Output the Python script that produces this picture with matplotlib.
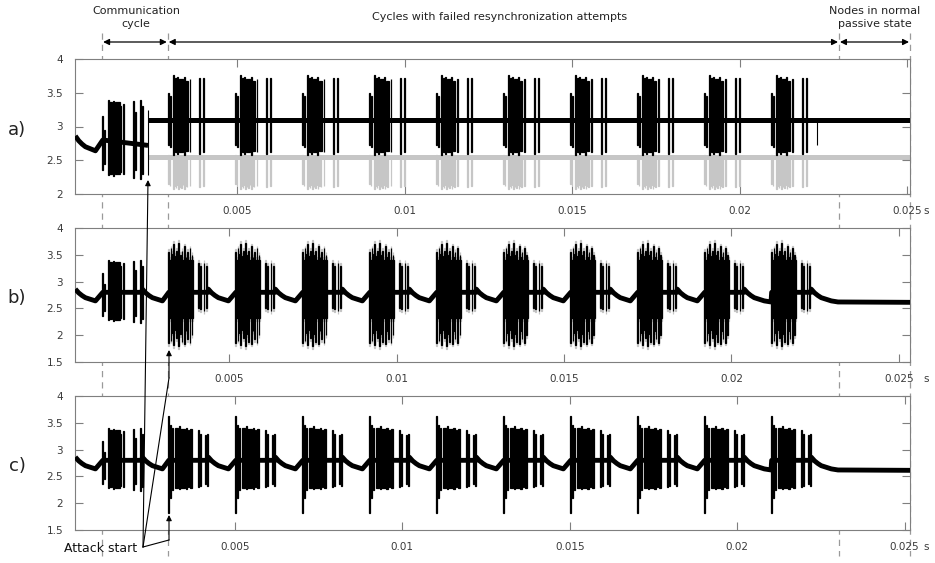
import numpy as np
import matplotlib
matplotlib.use("Agg")
import matplotlib.pyplot as plt
from matplotlib.lines import Line2D
from matplotlib.patches import FancyArrowPatch

# ---------------------------------------------------------------
# Data: times in s, offsets inside a frame in ms, levels in V
# ---------------------------------------------------------------
t_comm = 0.00097          # regular communication cycle
t_attack = 0.00234        # attack start (level jump in a)
cycle_starts = [0.00294, 0.00494, 0.00694, 0.00894, 0.01094,
                0.01294, 0.01494, 0.01694, 0.01894, 0.02094]
t_passive = 0.02297
x_range = [0.00016, 0.02509]
panel_shift = [0.0, 0.00024, 0.00007]     # trigger offset of each capture
panel_names = ["a)", "b)", "c)"]

# spikes of a frame: (start_ms, end_ms, top, bottom)
frame_normal = [(0.00, 0.03, 3.16, 2.35), (0.05, 0.08, 2.95, 2.45),
                (0.17, 0.20, 3.40, 2.28), (0.21, 0.28, 3.36, 2.30),
                (0.33, 0.36, 3.38, 2.27), (0.37, 0.52, 3.36, 2.29),
                (0.53, 0.56, 3.30, 2.32), (0.63, 0.65, 3.34, 2.30),
                (0.93, 0.95, 3.38, 2.24), (0.99, 1.01, 3.22, 2.36),
                (1.13, 1.15, 3.40, 2.22), (1.19, 1.21, 3.30, 2.30)]

frame_b = [(0.00, 0.03, 3.55, 1.85), (0.04, 0.74, 3.40, 2.32),
           (0.08, 0.10, 3.62, 1.90), (0.13, 0.15, 3.52, 2.05),
           (0.16, 0.18, 3.70, 1.82), (0.21, 0.23, 3.48, 2.10),
           (0.24, 0.26, 3.58, 1.95), (0.31, 0.33, 3.72, 1.80),
           (0.36, 0.38, 3.50, 2.02), (0.40, 0.42, 3.58, 1.88),
           (0.48, 0.50, 3.66, 1.84), (0.52, 0.54, 3.46, 2.08),
           (0.56, 0.58, 3.55, 1.92), (0.64, 0.66, 3.62, 1.86),
           (0.70, 0.72, 3.50, 2.00), (0.90, 0.92, 3.35, 2.50),
           (0.96, 0.98, 3.30, 2.48), (1.06, 1.08, 3.35, 2.45),
           (1.13, 1.15, 3.30, 2.50)]

frame_c = [(0.00, 0.03, 3.62, 1.82), (0.05, 0.08, 3.45, 2.10),
           (0.12, 0.14, 3.40, 2.25), (0.22, 0.30, 3.40, 2.28),
           (0.32, 0.35, 3.44, 2.26), (0.36, 0.50, 3.38, 2.28),
           (0.52, 0.56, 3.40, 2.27), (0.60, 0.62, 3.36, 2.30),
           (0.66, 0.72, 3.38, 2.28), (0.90, 0.92, 3.36, 2.30),
           (0.96, 0.98, 3.30, 2.33), (1.11, 1.13, 3.28, 2.35),
           (1.17, 1.19, 3.30, 2.33)]

frame_a_black = [(0.00, 0.03, 3.50, 2.72), (0.05, 0.09, 3.45, 2.70),
                 (0.15, 0.19, 3.76, 2.58), (0.20, 0.27, 3.72, 2.62),
                 (0.28, 0.31, 3.74, 2.60), (0.32, 0.45, 3.70, 2.62),
                 (0.46, 0.49, 3.74, 2.58), (0.50, 0.58, 3.68, 2.63),
                 (0.64, 0.66, 3.70, 2.62), (0.93, 0.95, 3.72, 2.60),
                 (1.05, 1.07, 3.72, 2.62)]

frame_a_gray = [(0.00, 0.02, 2.58, 2.15), (0.05, 0.07, 2.58, 2.12),
                (0.15, 0.17, 2.58, 2.08), (0.19, 0.21, 2.58, 2.12),
                (0.23, 0.25, 2.58, 2.09), (0.27, 0.29, 2.58, 2.14),
                (0.31, 0.33, 2.58, 2.08), (0.35, 0.37, 2.58, 2.11),
                (0.39, 0.41, 2.58, 2.09), (0.43, 0.45, 2.58, 2.13),
                (0.47, 0.49, 2.58, 2.08), (0.51, 0.53, 2.58, 2.12),
                (0.55, 0.57, 2.58, 2.10), (0.64, 0.66, 2.58, 2.12),
                (0.93, 0.95, 2.58, 2.10), (1.05, 1.07, 2.58, 2.12)]

attack_spike_a = (t_attack, t_attack + 0.00001, 3.24, 2.28)
late_spike_a = (0.02231, 0.02232, 3.10, 2.73)

# baseline: level during a frame, decay after it
frame_level = 2.80
frame_len_ms = 1.2
decay_ms = [0.0, 0.1, 0.2, 0.3, 0.45, 0.6, 0.8]
decay_v = [2.86, 2.79, 2.74, 2.70, 2.67, 2.64, 2.62]
tail_level = 2.61
level_a_pre_attack = 2.72
level_a_high = 3.10
level_a_low = 2.55
fringe = 0.05          # faint overshoot seen at the spike tips in b

ylims = [(2, 4), (1.5, 4), (1.5, 4)]
xtick_vals = [0.005, 0.01, 0.015, 0.02, 0.025]
xtick_txt = ["0.005", "0.01", "0.015", "0.02", "0.025"]

# ---------------------------------------------------------------
W, H = 935, 563
fig = plt.figure(figsize=(W / 100, H / 100), dpi=100)
plt.rcParams["font.family"] = ["DejaVu Sans"]

BLACK = "#000000"
GRAY = "#c6c6c6"
HALO = "#c4c4c4"
AX_COL = "#7f7f7f"
TXT_COL = "#3a3a3a"


def px_box(l, t, r, b):
    return [l / W, 1 - b / H, (r - l) / W, (b - t) / H]


def fig_xy(px, py):
    return (px / W, 1 - py / H)


def draw_spikes(ax, starts, pattern, shift, color, z, grow=0.0):
    xs, ws, bots, hs = [], [], [], []
    for t0 in starts:
        for s, e, top, bot in pattern:
            xs.append(t0 + s * 1e-3 + shift)
            ws.append((e - s) * 1e-3)
            bots.append(bot - grow)
            hs.append(top - bot + 2 * grow)
    ax.bar(xs, hs, width=ws, bottom=bots, align="edge", color=color,
           edgecolor=color, linewidth=0.9, zorder=z)


def decay_points(t_end, t_next):
    ts, vs = [], []
    for d, v in zip(decay_ms, decay_v):
        if t_end + d * 1e-3 < t_next:
            ts.append(t_end + d * 1e-3)
            vs.append(v)
    return ts, vs


def baseline_bc():
    ts, vs = decay_points(t_comm - decay_ms[-1] * 1e-3, t_comm)
    starts = [t_comm] + cycle_starts
    for i, t0 in enumerate(starts):
        t_next = starts[i + 1] if i + 1 < len(starts) else x_range[1]
        ts += [t0 + 0.02e-3, t0 + frame_len_ms * 1e-3]
        vs += [frame_level, frame_level]
        dt, dv = decay_points(t0 + frame_len_ms * 1e-3, t_next)
        ts += dt
        vs += dv
    ts.append(x_range[1] + 0.001)
    vs.append(tail_level)
    return np.array(ts), np.array(vs)


boxes = [px_box(75, 59, 910, 194), px_box(75, 228, 910, 362),
         px_box(75, 396, 910, 530)]
label_y = [130, 298, 466]
axes = []

for i, box in enumerate(boxes):
    ax = fig.add_axes(box)
    sh = panel_shift[i]
    axes.append(ax)

    if i == 0:
        # before the attack
        ts, vs = decay_points(t_comm - decay_ms[-1] * 1e-3, t_comm)
        ts += [t_comm + 0.02e-3, t_attack]
        vs += [frame_level, level_a_pre_attack]
        ax.plot(np.array(ts) + sh, vs, color=BLACK, lw=3.5,
                solid_capstyle="butt", zorder=3)
        draw_spikes(ax, [t_comm], frame_normal, sh, BLACK, 4)
        # after the attack: two nodes on different levels
        ax.plot([t_attack + sh, x_range[1] + 0.001], [level_a_low] * 2,
                color=GRAY, lw=3.6, solid_capstyle="butt", zorder=1)
        draw_spikes(ax, cycle_starts, frame_a_gray, sh, GRAY, 2)
        ax.plot([t_attack + sh, x_range[1] + 0.001], [level_a_high] * 2,
                color=BLACK, lw=3.6, solid_capstyle="butt", zorder=3)
        draw_spikes(ax, cycle_starts, frame_a_black, sh, BLACK, 4)
        for s, e, top, bot in [attack_spike_a, late_spike_a]:
            ax.bar(s + sh, top - bot, width=e - s, bottom=bot, align="edge",
                   color=BLACK, edgecolor=BLACK, linewidth=0.8, zorder=4)
    else:
        ts, vs = baseline_bc()
        ax.plot(ts + sh, vs, color=BLACK, lw=3.5, solid_capstyle="butt",
                zorder=3)
        attack_frame = frame_b if i == 1 else frame_c
        if i == 1:
            draw_spikes(ax, cycle_starts, attack_frame, sh, HALO, 2,
                        grow=fringe)
        draw_spikes(ax, [t_comm], frame_normal, sh, BLACK, 4)
        draw_spikes(ax, cycle_starts, attack_frame, sh, BLACK, 4)

    ax.set_xlim(x_range[0] + sh, x_range[1] + sh)
    y0, y1 = ylims[i]
    ax.set_ylim(y0, y1)
    yt = np.arange(y0, y1 + 0.01, 0.5)
    ax.set_yticks(yt)
    ax.set_yticklabels([f"{v:g}" for v in yt])
    ax.set_xticks(xtick_vals)
    ax.set_xticklabels(xtick_txt)
    ax.tick_params(direction="in", top=True, right=True, length=5.5,
                   width=0.8, color=AX_COL, labelcolor=TXT_COL,
                   labelsize=7.5, pad=8.5)
    for sp in ax.spines.values():
        sp.set_color(AX_COL)
        sp.set_linewidth(0.8)
    ax.annotate("s", xy=(0.025 + sh, 0), xycoords=("data", "axes fraction"),
                xytext=(12, -8.5), textcoords="offset points", ha="left",
                va="top", fontsize=7.5, color=TXT_COL)
    fig.text(17 / W, 1 - label_y[i] / H, panel_names[i], fontsize=13,
             ha="center", va="center", color="#222222")

# dashed markers through all panels
ax_a = axes[0]
marker_times = [t_comm, cycle_starts[0] - 0.00001, t_passive, x_range[1]]
marker_px = []
for t in marker_times:
    xd = ax_a.transData.transform((t, 3))[0]
    xf = xd / fig.bbox.width
    marker_px.append(xf * W)
    fig.add_artist(Line2D([xf, xf], [1 - 33 / H, 1 - 556 / H],
                          transform=fig.transFigure, color="#9a9a9a",
                          lw=0.9, ls=(0, (5, 4)), zorder=0))

# span arrows on top
arrow_y = 42
for a, b in zip(marker_px[:-1], marker_px[1:]):
    fig.add_artist(FancyArrowPatch(fig_xy(a + 1, arrow_y), fig_xy(b - 1, arrow_y),
                                   transform=fig.transFigure,
                                   arrowstyle="<|-|>", mutation_scale=9,
                                   color="black", lw=0.9, shrinkA=0,
                                   shrinkB=0))

fig.text(136 / W, 1 - 17.5 / H, "Communication\ncycle", ha="center",
         va="center", fontsize=8, color="#222222", linespacing=1.35)
fig.text(500 / W, 1 - 17 / H, "Cycles with failed resynchronization attempts",
         ha="center", va="center", fontsize=8, color="#222222")
fig.text(875 / W, 1 - 17.5 / H, "Nodes in normal\npassive state",
         ha="center", va="center", fontsize=8, color="#222222",
         linespacing=1.35)

# attack start annotation
fig.text(64 / W, 1 - 548 / H, "Attack start", ha="left", va="center",
         fontsize=9, color="#111111")
hub = (143, 547)
arrow_paths = [[hub, (148, 180)],
               [hub, (169, 378), (169, 350)],
               [hub, (169, 540), (169, 515)]]
for path in arrow_paths:
    for p, q in zip(path[:-2], path[1:-1]):
        fig.add_artist(Line2D([p[0] / W, q[0] / W], [1 - p[1] / H, 1 - q[1] / H],
                              transform=fig.transFigure, color="black",
                              lw=0.8))
    fig.add_artist(FancyArrowPatch(fig_xy(*path[-2]), fig_xy(*path[-1]),
                                   transform=fig.transFigure,
                                   arrowstyle="-|>", mutation_scale=8,
                                   color="black", lw=0.8, shrinkA=0,
                                   shrinkB=0))

fig.savefig("out.png", dpi=100)
